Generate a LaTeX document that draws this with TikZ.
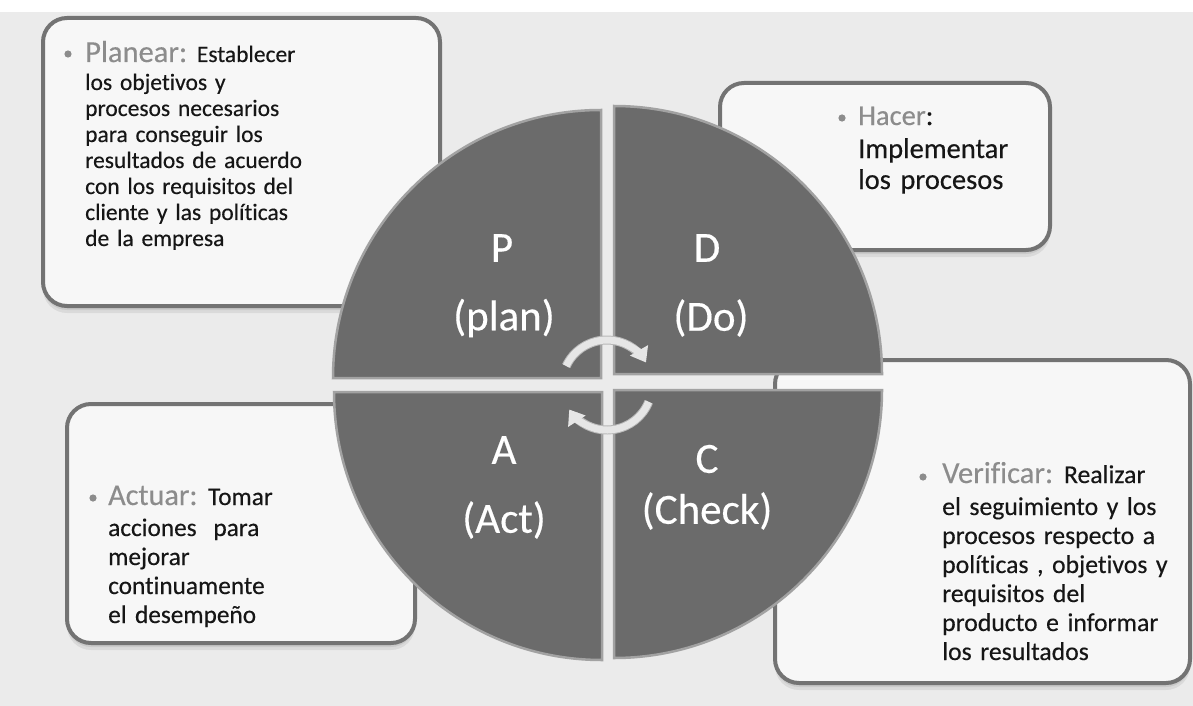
\documentclass[tikz,border=0pt]{standalone}
\usepackage{fontspec}
\setmainfont{Carlito}[RawFeature={-liga;-dlig;-clig}, FakeBold=0.35]
\usetikzlibrary{arrows.meta}
\definecolor{bg}{HTML}{EBEBEB}
\definecolor{quad}{HTML}{6B6B6B}
\definecolor{quadedge}{HTML}{A2A2A2}
\definecolor{boxfill}{HTML}{F7F7F7}
\definecolor{boxline}{HTML}{737373}
\definecolor{head}{HTML}{8C8C8C}
\definecolor{bodytxt}{HTML}{161616}
\definecolor{arr}{HTML}{E6E6E6}
\definecolor{arrline}{HTML}{B8B8B8}
\tikzset{
  infobox/.style={rounded corners=24pt, fill=boxfill, draw=boxline, line width=4pt, inner sep=0pt},
  boxshadow/.style={rounded corners=24pt, fill=black, opacity=0.07, draw=none},
  quadrant/.style={fill=quad, draw=quadedge, line width=2.5pt},
  boxtext/.style={anchor=base west, inner sep=0pt, text width=#1, align=left, text=bodytxt},
  qlabel/.style={text=white, inner sep=0pt, font=\fontsize{43}{50}\selectfont},
  bulletdot/.style={fill=head, draw=none},
  cycunder/.style={draw=arrline, line width=9pt},
  cyc/.style={draw=arr, line width=7pt, -{Triangle[length=14pt,width=20pt]}},
}
\begin{document}
\begin{tikzpicture}[x=1pt,y=-1pt]
\useasboundingbox (0,0) rectangle (1193,706);
% background
\fill[white] (0,0) rectangle (1193,12);
\fill[bg] (0,12) rectangle (1193,706);

% shadows
\foreach \d in {2,4,7}{
  \fill[boxshadow] (43,18+\d) rectangle (440,306+\d);
  \fill[boxshadow] (720,83+\d) rectangle (1050,250+\d);
  \fill[boxshadow] (67,404+\d) rectangle (415,643+\d);
  \fill[boxshadow] (775,360+\d) rectangle (1190,683+\d);
}

% boxes
\node[infobox, minimum width=397pt, minimum height=288pt] (planbox) at (241.5,162) {};
\node[infobox, minimum width=330pt, minimum height=167pt] (dobox) at (885,166.5) {};
\node[infobox, minimum width=348pt, minimum height=239pt] (actbox) at (241,523.5) {};
\node[infobox, minimum width=415pt, minimum height=323pt] (checkbox) at (982.5,521.5) {};

% bullets
\fill[bulletdot] (68,54) circle (3.6);
\fill[bulletdot] (842,118) circle (3.6);
\fill[bulletdot] (93,498) circle (3.6);
\fill[bulletdot] (923,477) circle (3.6);

% texts
\node[boxtext=340pt, font=\fontsize{23.5}{26}\selectfont] (plantext) at (85,62)
 {{\color{head}\fontsize{30.5}{26}\selectfont Planear:}\hspace{-2pt} Establecer\\[2pt]
  los objetivos y\\ procesos necesarios\\ para conseguir los\\ resultados de acuerdo\\
  con los requisitos del\\ cliente y las políticas\\ de la empresa};
\node[boxtext=180pt, font=\fontsize{28.5}{31}\selectfont] (dotext) at (858,125)
 {{\color{head}Hacer}:\\[2pt] Implementar\\ los procesos};
\node[boxtext=280pt, font=\fontsize{25.3}{29}\selectfont] (acttext) at (108,505)
 {{\color{head}\fontsize{30.2}{29}\selectfont Actuar:}\hspace{-2pt} Tomar\\[2pt]
  acciones\ \ para\\ mejorar\\ continuamente\\ el desempeño};
\node[boxtext=240pt, font=\fontsize{25.7}{29}\selectfont] (checktext) at (942,483)
 {{\color{head}\fontsize{30.5}{29}\selectfont Verificar:}\hspace{-2pt} Realizar\\[3pt]
  el seguimiento y los\\ procesos respecto a\\ políticas , objetivos y\\ requisitos del\\
  producto e informar\\ los resultados};

% quadrants
\draw[quadrant] (601,378) -- ++(-268,0) arc[start angle=180,end angle=270,radius=268] -- cycle;
\draw[quadrant] (614,374) -- ++(0,-268) arc[start angle=270,end angle=360,radius=268] -- cycle;
\draw[quadrant] (614,390) -- ++(268,0) arc[start angle=0,end angle=90,radius=268] -- cycle;
\draw[quadrant] (602,392) -- ++(0,268) arc[start angle=90,end angle=180,radius=268] -- cycle;

% cycle arrows
\coordinate (hub) at (607,385);
\draw[cycunder] (hub) ++(-155:45) arc[start angle=-155,end angle=-40,radius=45];
\draw[cycunder] (hub) ++(22:45) arc[start angle=22,end angle=137,radius=45];
\draw[cyc] (hub) ++(-155:45) arc[start angle=-155,end angle=-30,radius=45];
\draw[cyc] (hub) ++(22:45) arc[start angle=22,end angle=147,radius=45];

% quadrant labels
\node[qlabel] (pletter) at (502,248) {P};
\node[qlabel] (pword) at (504,318) {(plan)};
\node[qlabel] (dletter) at (707,248) {D};
\node[qlabel] (dword) at (711,318) {(Do)};
\node[qlabel] (aletter) at (504,450) {A};
\node[qlabel] (aword) at (504,520) {(Act)};
\node[qlabel] (cletter) at (707,459) {C};
\node[qlabel] (cword) at (707,511) {(Check)};
\end{tikzpicture}
\end{document}
